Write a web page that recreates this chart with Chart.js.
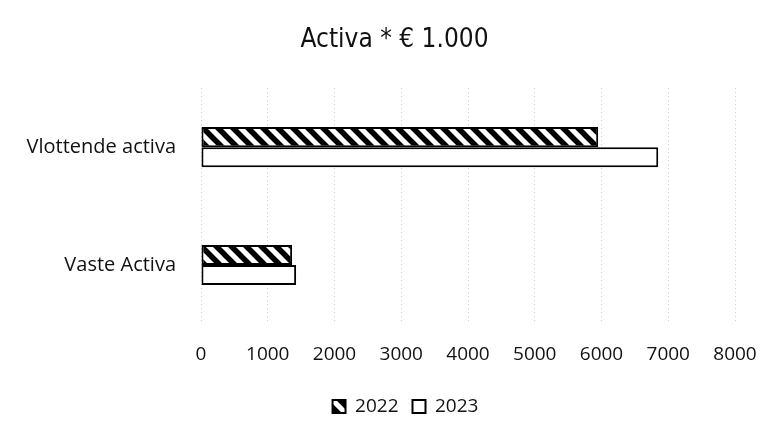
<!DOCTYPE html>
<html><head><meta charset="utf-8">
<script src="https://cdn.jsdelivr.net/npm/chart.js@4"></script>
<style>html,body{margin:0;padding:0;background:#fff}#w{width:777px;height:434px}</style>
</head><body><div id="w"><canvas id="c" width="777" height="434"></canvas></div>
<script>
const categories = ['Vlottende activa', 'Vaste Activa'];
const seriesNames = ['2022', '2023'];
const values2022 = [5950, 1365];
const values2023 = [6850, 1425];
const xTicks = [0, 1000, 2000, 3000, 4000, 5000, 6000, 7000, 8000];

function hatch() {
  const s = 15;
  const cv = document.createElement('canvas');
  cv.width = s; cv.height = s;
  const g = cv.getContext('2d');
  g.fillStyle = '#fff'; g.fillRect(0, 0, s, s);
  g.strokeStyle = '#000'; g.lineWidth = 5.5; g.lineCap = 'square';
  g.beginPath();
  for (const o of [-s, 0, s]) { g.moveTo(o - 4, -4); g.lineTo(o + s + 4, s + 4); }
  g.stroke();
  return g.createPattern(cv, 'repeat');
}
const ctx = document.getElementById('c').getContext('2d');
const pat = hatch();
const tickFont = { family: 'Open Sans', size: 19 };

const shiftBoxes = {
  id: 'shiftBoxes',
  afterLayout(chart) {
    const lg = chart.legend, tt = chart.titleBlock;
    if (lg) { lg.left += 33; lg.right += 33; }
    if (tt) { tt.left += 22; tt.right += 22; }
  }
};

new Chart(ctx, {
  type: 'bar',
  data: {
    labels: categories,
    datasets: [
      { label: seriesNames[0], data: values2022, backgroundColor: pat, borderColor: '#000', borderWidth: 2, borderSkipped: false, categoryPercentage: 0.34, barPercentage: 1.0 },
      { label: seriesNames[1], data: values2023, backgroundColor: '#fff', borderColor: '#000', borderWidth: 2, borderSkipped: false, categoryPercentage: 0.34, barPercentage: 1.0 }
    ]
  },
  options: {
    indexAxis: 'y',
    responsive: false,
    animation: false,
    layout: { padding: { left: 10, right: 42, top: 0, bottom: 8 } },
    plugins: {
      title: { display: true, text: 'Activa * € 1.000', color: '#111', font: { family: 'DejaVu Sans Condensed', size: 26, weight: 'normal', lineHeight: 1.2 }, padding: { top: 25, bottom: 32 } },
      legend: { position: 'bottom', labels: { color: '#111', font: tickFont, boxWidth: 13, boxHeight: 13, padding: 14, useBorderRadius: false } },
      tooltip: { enabled: false }
    },
    scales: {
      x: {
        min: 0, max: 8000,
        afterBuildTicks: (a) => { a.ticks = xTicks.map(v => ({ value: v })); },
        afterFit: (a) => { a.height = 59; },
        ticks: { color: '#111', font: tickFont, padding: 19, callback: (v) => String(v) },
        grid: { color: '#c8c8c8', lineWidth: 1, drawTicks: false },
        border: { display: false, dash: [1, 3] }
      },
      y: {
        afterFit: (a) => { a.width = 191; },
        ticks: { color: '#111', font: { family: 'Open Sans', size: 20 }, padding: 17 },
        grid: { display: false },
        border: { display: false }
      }
    }
  },
  plugins: [shiftBoxes]
});
</script>
</body></html>
